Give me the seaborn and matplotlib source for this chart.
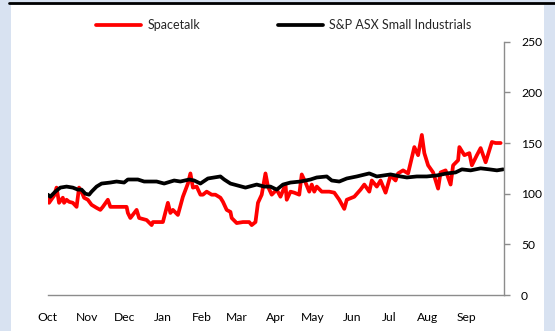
import numpy as np
import pandas as pd
import matplotlib.pyplot as plt
import matplotlib.dates as mdates
from matplotlib.patches import Rectangle
import seaborn as sns

# Spacetalk share price vs S&P ASX Small Industrials, rebased to 100
spa_dates = ['2020-10-01', '2020-10-02', '2020-10-06', '2020-10-08', '2020-10-10', '2020-10-13',
             '2020-10-14', '2020-10-16', '2020-10-18', '2020-10-21', '2020-10-24', '2020-10-26',
             '2020-10-28', '2020-10-30', '2020-11-02', '2020-11-05', '2020-11-09', '2020-11-12',
             '2020-11-14', '2020-11-18', '2020-11-20', '2020-12-03', '2020-12-04', '2020-12-06',
             '2020-12-11', '2020-12-13', '2020-12-19', '2020-12-23', '2020-12-24', '2021-01-01',
             '2021-01-05', '2021-01-07', '2021-01-09', '2021-01-13', '2021-01-17', '2021-01-21',
             '2021-01-23', '2021-01-25', '2021-01-28', '2021-01-31', '2021-02-02', '2021-02-05',
             '2021-02-09', '2021-02-12', '2021-02-16', '2021-02-18', '2021-02-21', '2021-02-24',
             '2021-02-25', '2021-03-01', '2021-03-06', '2021-03-11', '2021-03-13', '2021-03-16',
             '2021-03-18', '2021-03-21', '2021-03-24', '2021-03-26', '2021-03-29', '2021-04-02',
             '2021-04-05', '2021-04-09', '2021-04-10', '2021-04-13', '2021-04-16', '2021-04-20',
             '2021-04-22', '2021-04-25', '2021-04-28', '2021-04-30', '2021-05-02', '2021-05-04',
             '2021-05-08', '2021-05-14', '2021-05-18', '2021-05-22', '2021-05-26', '2021-05-28',
             '2021-06-03', '2021-06-08', '2021-06-11', '2021-06-15', '2021-06-17', '2021-06-21',
             '2021-06-24', '2021-06-28', '2021-07-02', '2021-07-06', '2021-07-08', '2021-07-12',
             '2021-07-16', '2021-07-21', '2021-07-24', '2021-07-27', '2021-07-29', '2021-08-01',
             '2021-08-05', '2021-08-09', '2021-08-11', '2021-08-15', '2021-08-19', '2021-08-21',
             '2021-08-25', '2021-08-26', '2021-08-30', '2021-09-03', '2021-09-05', '2021-09-09',
             '2021-09-12', '2021-09-16', '2021-09-19', '2021-09-21', '2021-09-24', '2021-09-28']
spa_values = [97, 91, 98, 106, 91, 96,
              91, 94, 92, 91, 87, 106,
              102, 96, 94, 89, 86, 84,
              87, 94, 87, 87, 81, 76,
              84, 76, 74, 69, 72, 72,
              91, 81, 84, 79, 97, 110,
              120, 106, 107, 99, 99, 102,
              99, 99, 96, 92, 84, 82,
              76, 71, 72, 72, 69, 72,
              91, 99, 120, 107, 99, 104,
              97, 109, 94, 102, 101, 99,
              119, 111, 102, 109, 102, 107,
              102, 102, 101, 94, 85, 94,
              97, 104, 109, 102, 113, 107,
              113, 101, 118, 113, 120, 123,
              120, 146, 138, 158, 140, 128,
              121, 105, 121, 123, 109, 128,
              133, 146, 138, 140, 128, 138,
              145, 131, 143, 151, 150, 150]

idx_dates = ['2020-10-01', '2020-10-03', '2020-10-07', '2020-10-11', '2020-10-16', '2020-10-21',
             '2020-10-25', '2020-10-28', '2020-10-31', '2020-11-03', '2020-11-05', '2020-11-09',
             '2020-11-13', '2020-11-20', '2020-11-25', '2020-12-01', '2020-12-04', '2020-12-12',
             '2020-12-17', '2020-12-22', '2020-12-27', '2021-01-02', '2021-01-10', '2021-01-15',
             '2021-01-22', '2021-01-26', '2021-01-31', '2021-02-06', '2021-02-16', '2021-02-19',
             '2021-02-24', '2021-03-02', '2021-03-08', '2021-03-17', '2021-03-23', '2021-03-28',
             '2021-04-02', '2021-04-07', '2021-04-13', '2021-04-21', '2021-04-29', '2021-05-04',
             '2021-05-12', '2021-05-16', '2021-05-22', '2021-05-28', '2021-06-05', '2021-06-15',
             '2021-06-21', '2021-07-02', '2021-07-10', '2021-07-15', '2021-07-23', '2021-07-31',
             '2021-08-08', '2021-08-16', '2021-08-23', '2021-08-28', '2021-09-04', '2021-09-12',
             '2021-09-19', '2021-09-25', '2021-09-30']
idx_values = [99, 97, 102, 106, 107, 106,
              104, 104, 100, 99, 102, 107,
              110, 111, 112, 111, 114, 114,
              112, 112, 112, 110, 113, 112,
              114, 113, 110, 115, 117, 114,
              110, 108, 106, 109, 107, 107,
              104, 109, 111, 112, 114, 116,
              117, 113, 112, 115, 117, 120,
              117, 119, 117, 116, 117, 117,
              118, 120, 121, 124, 123, 125,
              124, 123, 124]

spa = pd.DataFrame({'date': pd.to_datetime(spa_dates), 'value': spa_values})
idx = pd.DataFrame({'date': pd.to_datetime(idx_dates), 'value': idx_values})

sns.set_style('white')
plt.rcParams['font.family'] = ['Lato', 'DejaVu Sans']

fig = plt.figure(figsize=(5.55, 3.31), dpi=100)
fig.patch.set_facecolor('#d8e2f1')
# white panel and the black rule along the top
fig.add_artist(Rectangle((11 / 555, 0), 533 / 555, 1 - 5 / 331, transform=fig.transFigure,
                         facecolor='white', edgecolor='none', zorder=0))
fig.add_artist(plt.Line2D([9 / 555, 1], [1 - 3 / 331, 1 - 3 / 331], transform=fig.transFigure,
                          color='black', linewidth=2))

ax = fig.add_axes([47.8 / 555, 1 - 295 / 331, (504.4 - 47.8) / 555, (295 - 41.7) / 331])
ax.set_facecolor('none')

sns.lineplot(data=spa, x='date', y='value', ax=ax, color='#ff0000', linewidth=2.7, label='Spacetalk')
sns.lineplot(data=idx, x='date', y='value', ax=ax, color='black', linewidth=2.7,
             label='S&P ASX Small Industrials')

ax.set_xlim(pd.Timestamp('2020-10-01'), pd.Timestamp('2021-10-01'))
ax.set_ylim(0, 250)
ax.set_yticks([0, 50, 100, 150, 200, 250])
ax.yaxis.tick_right()
ax.xaxis.set_major_locator(mdates.MonthLocator())
ax.xaxis.set_major_formatter(mdates.DateFormatter('%b'))
ax.set_xlabel('')
ax.set_ylabel('')

for s in ['top', 'left']:
    ax.spines[s].set_visible(False)
for s in ['bottom', 'right']:
    ax.spines[s].set_color('#8c8c8c')
    ax.spines[s].set_linewidth(1)
ax.tick_params(axis='both', which='major', direction='out', length=4, width=1, color='#8c8c8c',
               labelsize=8.7, labelcolor='black')
ax.tick_params(axis='x', pad=8)
ax.tick_params(axis='y', pad=8)
# last month tick sits on the right spine; hide its label
ax.get_xticklabels()[-1].set_visible(False)

handles, labels = ax.get_legend_handles_labels()
ax.get_legend().remove()
fig.legend(handles, labels, loc='center', bbox_to_anchor=(0.511, 1 - 25 / 331), ncol=2,
           frameon=False, fontsize=9, handlelength=3.6, handletextpad=0.5, columnspacing=6.2)

plt.savefig('out.png', dpi=100, facecolor=fig.get_facecolor())
